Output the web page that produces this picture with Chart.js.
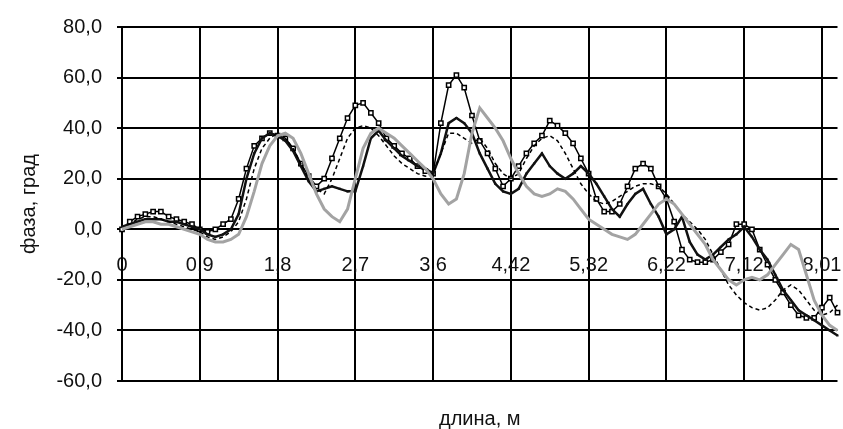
<!DOCTYPE html>
<html><head><meta charset="utf-8">
<script src="https://cdn.jsdelivr.net/npm/chart.js@4"></script>
<style>html,body{margin:0;padding:0;background:#fff}#wrap{width:843px;height:429px}</style>
</head><body><div id="wrap"><canvas id="c"></canvas></div>
<script>
// x tick labels (one per gridline), 10 samples per gridline interval
const xTickLabels = ['0','0,9','1,8','2,7','3,6','4,42','5,32','6,22','7,12','8,01'];
const samplesPerTick = 10;

const seriesSquares = [0,3,5,6,7,7,5,4,3,2, 0,-1,0,2,4,12,24,33,36,38, 37,36,32,26,21,17,20,28,36,44, 49,50,46,42,36,33,30,28,25,23, 22,42,57,61,56,45,35,30,24,17, 20,25,30,34,37,43,41,38,34,28, 22,12,7,7,10,17,24,26,24,17, 12,3,-8,-12,-13,-13,-12,-9,-6,2, 2,0,-8,-14,-20,-25,-30,-34,-35,-35, -31,-27,-33];
const seriesSolid = [1,2,3,4,4,4,3,3,2,1, 0,-2,-3,-2,0,6,20,30,36,38, 37,35,31,25,19,15,16,17,16,15, 15,25,36,39,35,32,29,27,25,24, 22,30,42,44,42,38,30,24,18,15, 14,16,22,26,30,25,22,20,22,25, 22,18,13,8,5,10,14,16,10,5, -2,0,5,-5,-10,-12,-10,-7,-4,-2, 1,-3,-8,-12,-18,-24,-28,-32,-34,-36, -38,-40,-42];
const seriesGray = [0,1,2,3,3,2,2,1,0,-1, -2,-4,-5,-5,-4,-2,5,15,26,33, 37,38,36,30,22,14,8,5,3,8, 20,32,38,40,38,36,33,30,27,24, 20,14,10,12,22,38,48,44,40,35, 28,22,17,14,13,14,16,15,12,8, 4,2,0,-2,-3,-4,-2,2,6,10, 12,10,6,2,-2,-6,-12,-16,-20,-22, -20,-19,-20,-18,-14,-10,-6,-8,-18,-28, -34,-38,-40];
const seriesDashed = [0,2,4,5,5,4,3,2,1,0, -1,-3,-4,-3,-1,3,12,24,32,36, 38,36,32,26,20,16,14,20,28,36, 40,41,40,37,33,29,26,24,22,21, 22,30,38,38,36,34,36,32,26,22, 20,22,28,33,36,37,35,30,24,18, 14,11,10,11,13,15,17,18,18,17, 14,10,6,3,0,-4,-10,-16,-22,-26, -29,-31,-32,-31,-28,-24,-22,-24,-28,-32, -34,-33,-30];

const yMin = -60, yMax = 80, yStep = 20;

const categories = seriesSquares.map((_, i) =>
  (i % samplesPerTick === 0 && xTickLabels[i / samplesPerTick] !== undefined) ? xTickLabels[i / samplesPerTick] : '');

const FONT = '"Liberation Sans", Arial, sans-serif';

new Chart(document.getElementById('c'), {
  type: 'line',
  data: {
    labels: categories,
    datasets: [
      { label: 'gray', data: seriesGray, borderColor: '#a3a3a3', borderWidth: 3, pointRadius: 0, tension: 0, xAxisID: 'x', yAxisID: 'y' },
      { label: 'dashed', data: seriesDashed, borderColor: '#000', borderWidth: 1.5, borderDash: [4, 3], pointRadius: 0, tension: 0, xAxisID: 'x', yAxisID: 'y' },
      { label: 'solid', data: seriesSolid, borderColor: '#111', borderWidth: 2.5, pointRadius: 1.5, pointStyle: 'rect', pointBackgroundColor: '#111', pointBorderWidth: 0, tension: 0, xAxisID: 'x', yAxisID: 'y' },
      { label: 'squares', data: seriesSquares, borderColor: '#000', borderWidth: 1.5, pointRadius: 3, pointStyle: 'rect', pointBackgroundColor: '#fff', pointBorderColor: '#000', pointBorderWidth: 1.5, tension: 0, xAxisID: 'x', yAxisID: 'y' }
    ]
  },
  options: {
    responsive: true, maintainAspectRatio: false, animation: false,
    layout: { padding: { left: 0, right: 0, top: 27, bottom: 0 } },
    plugins: { legend: { display: false }, tooltip: { enabled: false } },
    scales: {
      x: {
        type: 'category',
        position: { y: 0 },
        grid: {
          drawTicks: false,
          lineWidth: 2,
          color: (c) => (c.tick && c.tick.label !== '' && c.tick.label !== undefined) ? '#000' : 'rgba(0,0,0,0)'
        },
        border: { display: true, color: '#000', width: 2 },
        ticks: {
          autoSkip: false, maxRotation: 0, minRotation: 0, padding: 24,
          color: '#111', font: { family: FONT, size: 20 },
          callback: function (v, i) { return categories[i]; }
        },
        afterFit: (s) => { s.paddingLeft = 0; s.paddingRight = 0; }
      },
      x2: {
        type: 'linear', position: 'bottom', axis: 'x',
        grid: { display: false }, border: { display: false },
        ticks: { display: false },
        title: { display: true, text: 'длина, м', color: '#111', font: { family: FONT, size: 20, lineHeight: 1 }, padding: { top: 0, bottom: 0 } },
        afterFit: (s) => { s.height = 48; s.paddingLeft = 0; s.paddingRight = 0; }
      },
      y: {
        min: yMin, max: yMax,
        grid: { color: '#000', lineWidth: 2, tickLength: 5 },
        border: { display: true, color: '#000', width: 2 },
        ticks: {
          stepSize: yStep, padding: 15, color: '#111', font: { family: FONT, size: 20 },
          callback: (v) => v.toFixed(1).replace('.', ',')
        },
        title: { display: true, text: 'фаза, град', color: '#111', font: { family: FONT, size: 20, lineHeight: 1 }, padding: { top: 19, bottom: 0 } },
        afterFit: (s) => { s.width = 122; }
      }
    }
  }
});
</script></body></html>
